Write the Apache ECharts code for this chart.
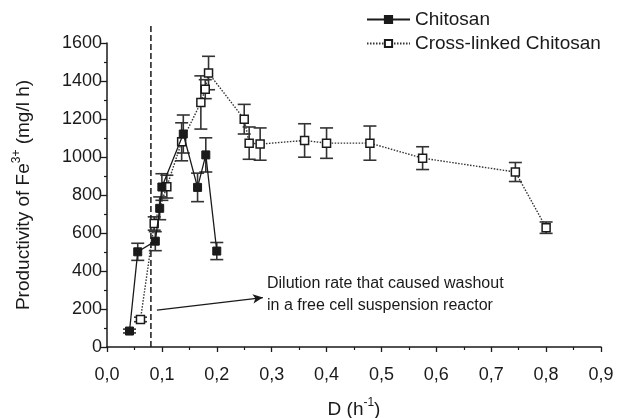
<!DOCTYPE html>
<html>
<head>
<meta charset="utf-8">
<script src="https://cdn.jsdelivr.net/npm/echarts@6/dist/echarts.min.js"></script>
<style>
  html, body { margin: 0; padding: 0; background: #fff; }
  #chart { width: 619px; height: 418px; }
</style>
</head>
<body>
<div id="chart"></div>
<script>
// Chitosan (filled squares)
const chitD   = [0.041, 0.056, 0.088, 0.096, 0.100, 0.139, 0.165, 0.180, 0.200];
const chitP   = [84, 501, 557, 730, 842, 1121, 840, 1011, 505];
const chitErr = [10, 45, 50, 60, 70, 100, 75, 90, 45];

// Cross-linked Chitosan (open squares)
const crossD   = [0.061, 0.086, 0.109, 0.136, 0.171, 0.179, 0.185, 0.250, 0.259, 0.279, 0.360, 0.400, 0.479, 0.575, 0.744, 0.800];
const crossP   = [145, 650, 844, 1080, 1287, 1357, 1442, 1199, 1073, 1068, 1087, 1073, 1073, 994, 921, 628];
const crossErr = [12, 35, 60, 100, 140, 50, 88, 78, 85, 85, 88, 80, 90, 60, 50, 30];

// washout dilution rate + arrow
const washoutD = 0.08;
const washoutTop = 1700;
const arrowFrom = [0.091, 194];
const arrowTo = [0.284, 260];
const noteLines = ['Dilution rate that caused washout', 'in a free cell suspension reactor'];

const names = ['Chitosan', 'Cross-linked Chitosan'];
const FONT = 'Liberation Sans, Arial, Helvetica, sans-serif';
const INK = '#1a1a1a';

function pairs(xs, ys) {
  return xs.map((x, i) => [x, ys[i]]);
}
function errData(xs, ys, es) {
  return xs.map((x, i) => [x, ys[i], es[i]]);
}
function errorBars(api) {
  const x = api.value(0), y = api.value(1), e = api.value(2);
  const hi = api.coord([x, y + e]);
  const lo = api.coord([x, y - e]);
  const w = 6.5;
  const st = { stroke: '#333', lineWidth: 1.6 };
  return {
    type: 'group',
    children: [
      { type: 'line', shape: { x1: hi[0], y1: hi[1], x2: lo[0], y2: lo[1] }, style: st },
      { type: 'line', shape: { x1: hi[0] - w, y1: hi[1], x2: hi[0] + w, y2: hi[1] }, style: st },
      { type: 'line', shape: { x1: lo[0] - w, y1: lo[1], x2: lo[0] + w, y2: lo[1] }, style: st }
    ]
  };
}

const chart = echarts.init(document.getElementById('chart'));
chart.setOption({
  animation: false,
  textStyle: { fontFamily: FONT, color: INK },
  grid: { left: 107, right: 18, top: 43, bottom: 71, containLabel: false, outerBoundsMode: 'none' },
  legend: {
    data: names,
    orient: 'vertical',
    left: 361,
    top: 5,
    itemWidth: 43,
    itemHeight: 9,
    itemGap: 5,
    textStyle: { fontSize: 19, color: INK, fontFamily: FONT }
  },
  xAxis: {
    type: 'value',
    min: 0, max: 0.9, interval: 0.1,
    name: 'D (h{sup|-1})',
    nameLocation: 'middle',
    nameGap: 50,
    nameTextStyle: {
      fontSize: 19, color: INK, fontFamily: FONT, lineHeight: 26, verticalAlign: 'top',
      rich: { sup: { fontSize: 12, verticalAlign: 'top', lineHeight: 26 } }
    },
    axisLine: { lineStyle: { color: INK, width: 1.5 } },
    axisTick: { inside: false, length: 5, lineStyle: { color: INK, width: 1.3 } },
    minorTick: { show: true, splitNumber: 2, length: 3, lineStyle: { color: INK, width: 1.2 } },
    splitLine: { show: false },
    axisLabel: {
      fontSize: 18, color: INK, margin: 19,
      formatter: v => v.toFixed(1).replace('.', ',')
    }
  },
  yAxis: {
    type: 'value',
    min: 0, max: 1600, interval: 200,
    name: 'Productivity of Fe{sup|3+} (mg/l h)',
    nameLocation: 'middle',
    nameGap: 70,
    nameTextStyle: {
      fontSize: 19, color: INK, fontFamily: FONT, lineHeight: 26,
      rich: { sup: { fontSize: 12, verticalAlign: 'top', lineHeight: 26 } }
    },
    axisLine: { show: true, lineStyle: { color: INK, width: 1.5 } },
    axisTick: { show: true, inside: false, length: 6, lineStyle: { color: INK, width: 1.3 } },
    minorTick: { show: true, splitNumber: 2, length: 3, lineStyle: { color: INK, width: 1.2 } },
    splitLine: { show: false },
    axisLabel: { fontSize: 18, color: INK, margin: 5, formatter: v => String(v) }
  },
  graphic: [
    {
      type: 'text', left: 267, top: 273,
      style: { text: noteLines.join('\n'), fontSize: 16, lineHeight: 22, fill: INK, fontFamily: FONT }
    }
  ],
  series: [
    {
      type: 'custom', name: 'chitErr', renderItem: (p, api) => errorBars(api),
      data: errData(chitD, chitP, chitErr), z: 1, silent: true
    },
    {
      type: 'custom', name: 'crossErr', renderItem: (p, api) => errorBars(api),
      data: errData(crossD, crossP, crossErr), z: 1, silent: true
    },
    {
      name: names[0], type: 'line', data: pairs(chitD, chitP), z: 3,
      symbol: 'rect', symbolSize: 8,
      lineStyle: { color: INK, width: 1.3, type: 'solid' },
      itemStyle: { color: INK, borderColor: INK, borderWidth: 1 }
    },
    {
      name: names[1], type: 'line', data: pairs(crossD, crossP), z: 2,
      symbol: 'rect', symbolSize: 8,
      lineStyle: { color: '#333', width: 1.4, type: [1.5, 1.5] },
      itemStyle: { color: '#fff', borderColor: INK, borderWidth: 1.5 }
    },
    {
      type: 'line', name: 'washout', data: [[washoutD, 0], [washoutD, washoutTop]],
      symbol: 'none', clip: false, silent: true, z: 1,
      lineStyle: { color: INK, width: 1.5, type: [6, 3] },
      markLine: {
        silent: true, symbol: ['none', 'arrow'], symbolSize: [7, 10],
        lineStyle: { color: INK, width: 1.3, type: 'solid' },
        label: { show: false },
        data: [[{ coord: arrowFrom }, { coord: arrowTo }]]
      }
    }
  ]
});
</script>
</body>
</html>
